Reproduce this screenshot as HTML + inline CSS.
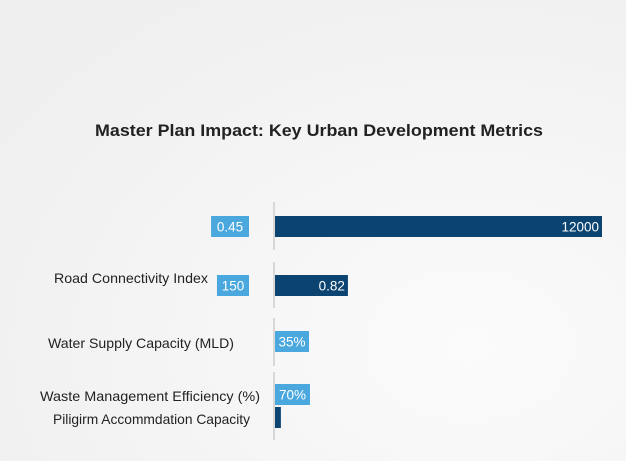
<!DOCTYPE html>
<html><head><meta charset="utf-8"><style>
html,body{margin:0;padding:0;width:626px;height:461px;overflow:hidden;background:#f1f2f2}
svg{display:block;font-family:"Liberation Sans",sans-serif}
</style></head><body>
<svg width="626" height="461" viewBox="0 0 626 461" id="chart">
<defs><radialGradient id="bg" cx="0.75" cy="0.75" r="0.9"><stop offset="0" stop-color="#fbfbfb"/><stop offset="1" stop-color="#efefef"/></radialGradient></defs>
<rect width="626" height="461" fill="url(#bg)"/>
<text x="319" y="136" text-anchor="middle" font-size="17" font-weight="bold" fill="#222" textLength="448" lengthAdjust="spacingAndGlyphs">Master Plan Impact: Key Urban Development Metrics</text>
<g id="axis"></g><g id="marks"></g>
</svg>
<script>
const categories = ["", "Road Connectivity Index", "Water Supply Capacity (MLD)", "Waste Management Efficiency (%)", "Piligirm Accommdation Capacity"];
const darkValues = [100, 22.3, 0, 0, 1.8];
const darkLabels = ["12000", "0.82", "", "", ""];
const lightValues = [11.6, 9.8, 10.4, 10.7, 0];
const lightLabels = ["0.45", "150", "35%", "70%", ""];
const lightSide = ["left", "left", "right", "right", "right"];

const NS = "http://www.w3.org/2000/svg";
const axisX = 275, maxW = 327;
const xScale = v => v / 100 * maxW;
const catLabelY = [0, 283, 348, 401, 424];
const catLabelBox = [null, [54, 208], [48, 234], [40, 260], [53, 250]];
const darkY = [216, 275, 0, 0, 407];
const lightY = [216, 275, 331, 384, 0];
const barH = 21;
const marks = document.getElementById("marks");
const axis = document.getElementById("axis");
function mk(tag, attrs, parent) { const e = document.createElementNS(NS, tag); for (const k in attrs) e.setAttribute(k, attrs[k]); parent.appendChild(e); return e; }

[[202, 250], [262, 308], [318, 366], [372, 440]].forEach(s => {
  const l = mk("line", {x1: axisX - 1, x2: axisX - 1, y1: s[0], y2: s[1], stroke: "#c8c8c8", "stroke-width": 1.3}, axis);
  
  
});

categories.forEach((c, i) => {
  if (c) {
    const b = catLabelBox[i];
    const t = mk("text", {x: b[1], y: catLabelY[i], "text-anchor": "end", "font-size": 14, fill: "#222", textLength: b[1] - b[0], lengthAdjust: "spacingAndGlyphs"}, marks);
    t.textContent = c;
    
    
  }
  if (darkValues[i] > 0) {
    const r = mk("rect", {x: axisX, y: darkY[i], width: xScale(darkValues[i]), height: barH, fill: "#0b4371"}, marks);
    
    
    if (darkLabels[i]) {
      const t = mk("text", {x: axisX + xScale(darkValues[i]) - 3, y: darkY[i] + 15.5, "text-anchor": "end", "font-size": 13.5, fill: "#fff"}, marks);
      t.textContent = darkLabels[i];
      
      
    }
  }
  if (lightValues[i] > 0) {
    const w = xScale(lightValues[i]);
    const x = lightSide[i] === "left" ? axisX - 26 - w : axisX;
    const r = mk("rect", {x: x, y: lightY[i], width: w, height: barH, fill: "#4aa8de"}, marks);
    
    
    const t = mk("text", {x: x + w / 2, y: lightY[i] + 15.5, "text-anchor": "middle", "font-size": 13.5, fill: "#fff"}, marks);
    t.textContent = lightLabels[i];
    
    
  }
});
</script>
</body></html>
